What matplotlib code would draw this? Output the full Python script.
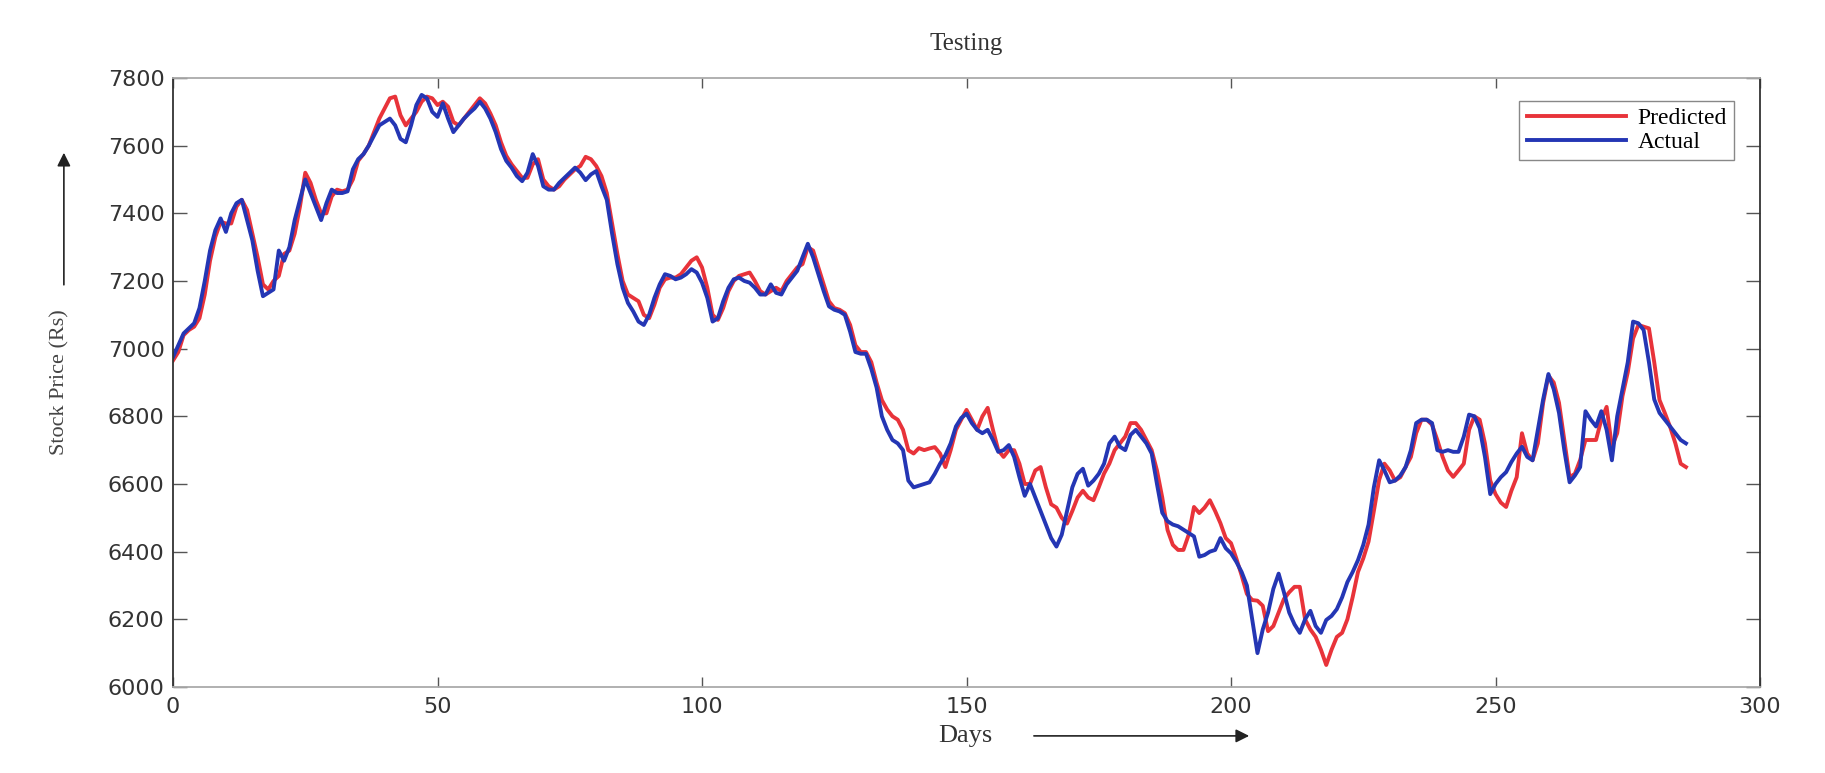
import numpy as np
import matplotlib
matplotlib.use("Agg")
import matplotlib.pyplot as plt

# ------------------------------------------------------------
# Data (one value per day)
# ------------------------------------------------------------
actual = [
    6975, 7010, 7045, 7060, 7075, 7120, 7200, 7290, 7350, 7385,
    7345, 7400, 7430, 7440, 7380, 7320, 7230, 7155, 7165, 7175,
    7290, 7260, 7300, 7380, 7440, 7500, 7460, 7420, 7380, 7430,
    7470, 7460, 7460, 7465, 7530, 7560, 7575, 7600, 7630, 7660,
    7670, 7680, 7660, 7620, 7610, 7660, 7720, 7750, 7740, 7700,
    7685, 7725, 7680, 7640, 7660, 7680, 7696, 7710, 7730, 7710,
    7680, 7640, 7590, 7555, 7535, 7510, 7495, 7520, 7575, 7540,
    7480, 7470, 7470, 7490, 7505, 7520, 7535, 7520, 7498, 7515,
    7525, 7480, 7440, 7340, 7250, 7180, 7135, 7110, 7080, 7070,
    7100, 7150, 7190, 7220, 7215, 7205, 7210, 7220, 7235, 7225,
    7195, 7150, 7080, 7090, 7140, 7180, 7205, 7210, 7200, 7195,
    7180, 7160, 7160, 7190, 7165, 7160, 7190, 7210, 7230, 7270,
    7310, 7270, 7220, 7170, 7125, 7115, 7110, 7100, 7050, 6990,
    6985, 6985, 6940, 6885, 6800, 6760, 6730, 6720, 6700, 6610,
    6590, 6595, 6600, 6605, 6630, 6660, 6685, 6720, 6770, 6795,
    6808, 6780, 6760, 6750, 6760, 6730, 6695, 6700, 6715, 6680,
    6620, 6565, 6600, 6560, 6520, 6480, 6440, 6415, 6450, 6520,
    6590, 6630, 6645, 6595, 6610, 6630, 6660, 6720, 6740, 6710,
    6700, 6745, 6760, 6740, 6720, 6690, 6600, 6515, 6490, 6480,
    6475, 6465, 6455, 6445, 6385, 6390, 6400, 6405, 6440, 6410,
    6395, 6370, 6340, 6300, 6200, 6100, 6170, 6220, 6290, 6335,
    6280, 6220, 6185, 6160, 6200, 6225, 6180, 6160, 6198, 6210,
    6230, 6265, 6310, 6340, 6375, 6420, 6480, 6590, 6670, 6640,
    6605, 6610, 6625, 6650, 6700, 6780, 6790, 6790, 6780, 6700,
    6695, 6700, 6695, 6695, 6740, 6805, 6800, 6765, 6680, 6570,
    6600, 6620, 6635, 6665, 6690, 6710, 6680, 6670, 6760, 6850,
    6925, 6880, 6810, 6700, 6605, 6625, 6650, 6815, 6790, 6770,
    6815, 6760, 6670, 6800, 6880, 6960, 7080, 7075, 7055, 6960,
    6850, 6810, 6790, 6770, 6750, 6730, 6720,
]

predicted = [
    6965, 6990, 7040, 7055, 7065, 7090, 7160, 7260, 7330, 7375,
    7370, 7370, 7420, 7440, 7410, 7340, 7270, 7190, 7175, 7200,
    7215, 7280, 7290, 7340, 7420, 7520, 7490, 7440, 7400, 7400,
    7450, 7470, 7465, 7470, 7500, 7555, 7575, 7600, 7640, 7680,
    7710, 7740, 7745, 7690, 7660, 7680, 7700, 7730, 7745, 7740,
    7720, 7730, 7715, 7670, 7660, 7680, 7700, 7720, 7740, 7725,
    7695, 7660, 7610, 7570, 7545, 7525, 7505, 7505, 7545, 7560,
    7500, 7480, 7470, 7480, 7500, 7515, 7530, 7540, 7567, 7560,
    7540, 7510, 7460, 7370, 7280, 7200, 7160, 7150, 7140, 7100,
    7090, 7130, 7180, 7205, 7210, 7210, 7220, 7240, 7260, 7270,
    7240, 7180, 7100, 7085, 7120, 7170, 7200, 7215, 7220, 7225,
    7200, 7170, 7160, 7170, 7180, 7170, 7200, 7220, 7240, 7250,
    7300, 7290, 7240, 7190, 7140, 7120, 7115, 7105, 7070, 7010,
    6990, 6990, 6960, 6900, 6848, 6820, 6800, 6790, 6760, 6700,
    6690, 6706, 6700, 6705, 6709, 6690, 6650, 6700, 6760, 6790,
    6819, 6790, 6760, 6800, 6825, 6760, 6700, 6680, 6700, 6700,
    6660, 6600, 6600, 6640, 6650, 6590, 6540, 6530, 6500, 6483,
    6520, 6560, 6580, 6560, 6552, 6590, 6631, 6660, 6700, 6720,
    6740, 6780, 6780, 6760, 6730, 6700, 6640, 6560, 6464, 6420,
    6405, 6405, 6450, 6532, 6514, 6530, 6552, 6520, 6484, 6440,
    6425, 6380, 6330, 6275, 6257, 6255, 6240, 6165, 6180, 6220,
    6260, 6280, 6296, 6296, 6200, 6170, 6148, 6110, 6065, 6110,
    6148, 6160, 6200, 6266, 6340, 6380, 6430, 6520, 6612, 6660,
    6640, 6610, 6620, 6650, 6680, 6750, 6790, 6790, 6775, 6730,
    6680, 6640, 6621, 6640, 6660, 6760, 6800, 6790, 6720, 6610,
    6570, 6545, 6532, 6580, 6620, 6750, 6690, 6670, 6720, 6840,
    6920, 6900, 6840, 6730, 6620, 6630, 6671, 6730, 6730, 6730,
    6790, 6828, 6710, 6750, 6860, 6930, 7030, 7070, 7065, 7060,
    6960, 6848, 6810, 6769, 6720, 6660, 6650,
]

days = np.arange(len(actual))

x_ticks = [0, 50, 100, 150, 200, 250, 300]
y_ticks = [6000, 6200, 6400, 6600, 6800, 7000, 7200, 7400, 7600, 7800]

# ------------------------------------------------------------
# Figure
# ------------------------------------------------------------
serif = ["Liberation Serif", "DejaVu Serif"]

fig = plt.figure(figsize=(18.25, 7.73), dpi=100)
ax = fig.add_axes([0.0948, 0.1113, 0.8696, 0.7878])

ax.plot(days, predicted, color="#e8333a", linewidth=2.8, label="Predicted")
ax.plot(days, actual, color="#2436b4", linewidth=2.8, label="Actual")

ax.set_xlim(0, 300)
ax.set_ylim(6000, 7800)
ax.set_xticks(x_ticks)
ax.set_yticks(y_ticks)

ax.tick_params(direction="in", top=True, right=True, colors="#555555",
               labelcolor="#333333", labelsize=16, width=1)
ax.tick_params(axis="x", length=7, pad=7)
ax.tick_params(axis="y", length=10, pad=6)
for lab in ax.get_xticklabels() + ax.get_yticklabels():
    lab.set_family("DejaVu Sans")

for side in ("left", "right"):
    ax.spines[side].set_color("#333333")
    ax.spines[side].set_linewidth(1.3)
for side in ("top", "bottom"):
    ax.spines[side].set_color("#aaaaaa")
    ax.spines[side].set_linewidth(1.3)

ax.set_title("Testing", family=serif, fontsize=18, color="#333333", pad=20)

leg = ax.legend(loc="upper right", bbox_to_anchor=(0.991, 0.982),
                prop={"family": serif, "size": 17}, handlelength=4.2,
                handletextpad=0.5, borderpad=0.3, labelspacing=0.1,
                fancybox=False, framealpha=1, edgecolor="#888888")
leg.get_frame().set_linewidth(1.0)

# axis labels with MATLAB-style arrows
fig.text(0.033, 0.506, "Stock Price (Rs)", rotation=90, ha="center", va="center",
         family=serif, fontsize=16, color="#444444")
fig.add_artist(matplotlib.patches.FancyArrowPatch(
    (0.035, 0.628), (0.035, 0.806), transform=fig.transFigure,
    arrowstyle="-|>", mutation_scale=20, color="#222222", linewidth=1.2))

fig.text(0.529, 0.048, "Days", ha="center", va="center",
         family=serif, fontsize=19, color="#333333")
fig.add_artist(matplotlib.patches.FancyArrowPatch(
    (0.565, 0.048), (0.686, 0.048), transform=fig.transFigure,
    arrowstyle="-|>", mutation_scale=20, color="#222222", linewidth=1.2))

fig.savefig("out.png", dpi=100)
